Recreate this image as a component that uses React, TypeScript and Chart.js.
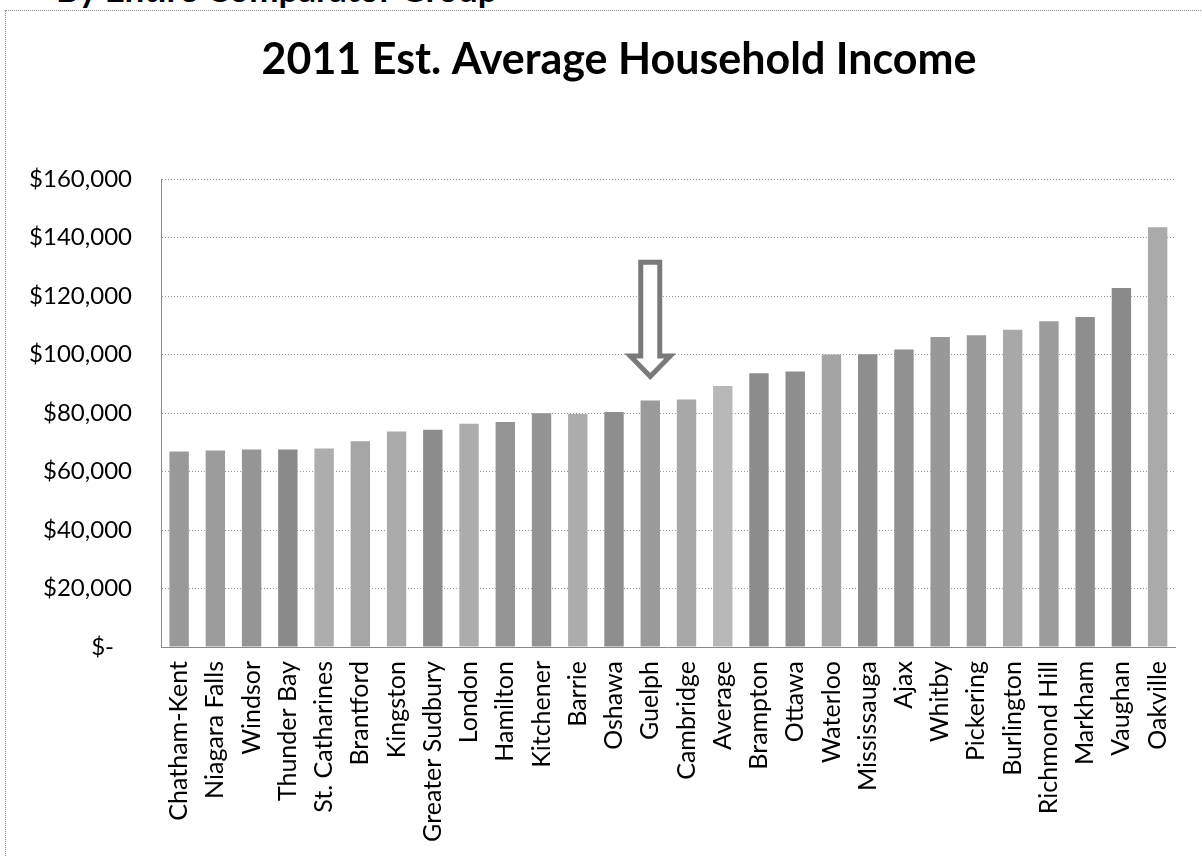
import React, { useEffect, useRef } from 'react';
import { Chart, registerables } from 'chart.js';

Chart.register(...registerables);

// ---- Data ----
const categories = [
  'Chatham-Kent', 'Niagara Falls', 'Windsor', 'Thunder Bay', 'St. Catharines',
  'Brantford', 'Kingston', 'Greater Sudbury', 'London', 'Hamilton',
  'Kitchener', 'Barrie', 'Oshawa', 'Guelph', 'Cambridge',
  'Average', 'Brampton', 'Ottawa', 'Waterloo', 'Mississauga',
  'Ajax', 'Whitby', 'Pickering', 'Burlington', 'Richmond Hill',
  'Markham', 'Vaughan', 'Oakville',
];

const incomes = [
  66800, 67200, 67500, 67500, 67900,
  70300, 73700, 74300, 76300, 76900,
  79900, 79700, 80300, 84300, 84600,
  89200, 93600, 94200, 100000, 100100,
  101700, 106000, 106600, 108500, 111400,
  112800, 122700, 143500,
];

const barColors = [
  '#999999', '#9c9c9c', '#959595', '#8a8a8a', '#adadad',
  '#a5a5a5', '#aaaaaa', '#8c8c8c', '#acacac', '#959595',
  '#939393', '#acacac', '#8e8e8e', '#9a9a9a', '#a8a8a8',
  '#b8b8b8', '#8c8c8c', '#8e8e8e', '#a4a4a4', '#8e8e8e',
  '#909090', '#989898', '#9a9a9a', '#a8a8a8', '#9c9c9c',
  '#8e8e8e', '#8a8a8a', '#aaaaaa',
];

const TITLE = '2011 Est. Average Household Income';
const HEADER = 'By Entire Comparator Group';
const Y_MIN = 0;
const Y_MAX = 160000;
const Y_STEP = 20000;

// Arrow annotation (data units)
const ARROW_CATEGORY = 'Guelph';
const ARROW_TOP = 131500;
const ARROW_SHOULDER = 99500;
const ARROW_TIP = 92500;

const formatDollar = (v: number) =>
  v === 0 ? '$-\u2002\u2005' : '$' + v.toLocaleString('en-US');

const titlePlugin = {
  id: 'slideTitle',
  afterDraw(chart: any) {
    const { ctx } = chart;
    ctx.save();
    ctx.font = 'bold 43px Lato';
    ctx.fillStyle = '#000000';
    ctx.textAlign = 'center';
    ctx.textBaseline = 'alphabetic';
    ctx.fillText(TITLE, 619, 74);
    ctx.restore();
  },
};

const arrowPlugin = {
  id: 'arrowAnnotation',
  afterDatasetsDraw(chart: any) {
    const { ctx, scales } = chart;
    const x = scales.x;
    const y = scales.y;
    const cx = x.getPixelForValue(categories.indexOf(ARROW_CATEGORY));
    const yTop = y.getPixelForValue(ARROW_TOP);
    const yShoulder = y.getPixelForValue(ARROW_SHOULDER);
    const yTip = y.getPixelForValue(ARROW_TIP);
    const hs = 9.5;
    const hh = 20;
    ctx.save();
    ctx.beginPath();
    ctx.moveTo(cx - hs, yTop);
    ctx.lineTo(cx + hs, yTop);
    ctx.lineTo(cx + hs, yShoulder);
    ctx.lineTo(cx + hh, yShoulder);
    ctx.lineTo(cx, yTip);
    ctx.lineTo(cx - hh, yShoulder);
    ctx.lineTo(cx - hs, yShoulder);
    ctx.closePath();
    ctx.fillStyle = '#ffffff';
    ctx.fill();
    ctx.lineJoin = 'miter';
    ctx.lineWidth = 5;
    ctx.strokeStyle = '#7a7a7a';
    ctx.stroke();
    ctx.restore();
  },
};

export default function App() {
  const canvasRef = useRef<HTMLCanvasElement | null>(null);

  useEffect(() => {
    let chart: Chart | null = null;
    let cancelled = false;
    const build = () => {
      if (cancelled || !canvasRef.current) return;
      chart = new Chart(canvasRef.current, {
        type: 'bar',
        data: {
          labels: categories,
          datasets: [
            {
              data: incomes,
              backgroundColor: barColors,
              borderWidth: 0,
              categoryPercentage: 1,
              barPercentage: 0.535,
            },
          ],
        },
        options: {
          animation: false,
          responsive: false,
          layout: { padding: { left: 0, right: 20, top: 179, bottom: 0 } },
          plugins: {
            legend: { display: false },
            tooltip: { enabled: false },
            title: { display: false },
          },
          scales: {
            x: {
              grid: { display: false, drawTicks: false },
              border: { display: true, color: '#8a8a8a', dash: [1, 2] },
              ticks: {
                autoSkip: false,
                minRotation: 90,
                maxRotation: 90,
                padding: 14,
                color: '#000000',
                font: { family: 'Lato', size: 25 },
              },
              afterFit: (s: any) => {
                s.height = 209;
              },
            },
            y: {
              min: Y_MIN,
              max: Y_MAX,
              grid: { color: '#9a9a9a', drawTicks: false },
              border: { display: true, color: '#8a8a8a', dash: [1, 2] },
              ticks: {
                stepSize: Y_STEP,
                padding: 29,
                color: '#000000',
                font: { family: 'Lato', size: 24 },
                callback: (v: any) => formatDollar(Number(v)),
              },
              afterFit: (s: any) => {
                s.width = 161;
              },
            },
          },
        } as any,
        plugins: [arrowPlugin, titlePlugin],
      });
    };
    const fonts: any = (document as any).fonts;
    if (fonts && fonts.load) {
      Promise.all([
        fonts.load('bold 43px Lato'),
        fonts.load('24px Lato'),
      ]).then(build, build);
    } else {
      build();
    }
    return () => {
      cancelled = true;
      if (chart) chart.destroy();
    };
  }, []);

  return (
    <div
      style={{
        position: 'fixed',
        left: 0,
        top: 0,
        width: 1202,
        height: 856,
        overflow: 'hidden',
        background: '#ffffff',
      }}
    >
      <div
        style={{
          position: 'absolute',
          left: 56,
          top: -27,
          fontFamily: 'Lato, sans-serif',
          fontWeight: 'bold',
          fontSize: 35,
          lineHeight: '30px',
          color: '#000000',
          whiteSpace: 'nowrap',
        }}
      >
        {HEADER}
      </div>
      <div
        style={{
          position: 'absolute',
          left: 5,
          top: 10,
          width: 1220,
          height: 900,
          border: '1px dotted #8a8a8a',
        }}
      />
      <canvas
        ref={canvasRef}
        width={1202}
        height={856}
        style={{ position: 'absolute', left: 0, top: 0, width: 1202, height: 856 }}
      />
    </div>
  );
}
